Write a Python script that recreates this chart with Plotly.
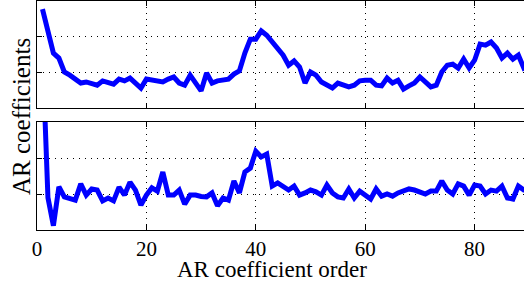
import plotly.graph_objects as go

order = list(range(1, 91))

top_coef = [2.77, 2.10, 1.54, 1.40, 1.01, 0.92, 0.81, 0.70, 0.73, 0.70,
            0.64, 0.76, 0.70, 0.67, 0.81, 0.76, 0.84, 0.70, 0.56, 0.81,
            0.78, 0.76, 0.73, 0.81, 0.87, 0.70, 0.64, 0.92, 0.70, 0.48,
            0.98, 0.70, 0.76, 0.78, 0.81, 0.95, 1.04, 1.54, 1.93, 1.93,
            2.16, 2.04, 1.85, 1.71, 1.48, 1.20, 1.32, 1.15, 0.70, 1.01,
            0.92, 0.73, 0.64, 0.56, 0.70, 0.64, 0.59, 0.64, 0.76, 0.78,
            0.78, 0.64, 0.62, 0.84, 0.70, 0.78, 0.53, 0.62, 0.70, 0.87,
            0.73, 0.59, 0.64, 1.01, 1.20, 1.23, 1.12, 1.37, 1.12, 1.34,
            1.79, 1.76, 1.85, 1.68, 1.40, 1.54, 1.37, 1.48, 1.12, 1.20]

bottom_coef = [5.00, 0.90, 0.12, 1.20, 0.92, 0.89, 0.83, 1.28, 0.97, 1.14,
               1.11, 0.81, 0.89, 0.81, 1.19, 0.97, 1.33, 1.11, 0.69, 0.97,
               1.17, 1.08, 1.61, 0.97, 0.97, 1.11, 0.72, 0.97, 0.97, 0.93,
               0.92, 1.03, 0.67, 0.89, 0.83, 1.36, 1.03, 1.61, 1.72, 2.19,
               2.03, 2.11, 1.22, 1.31, 1.22, 1.11, 1.22, 0.97, 1.03, 1.11,
               1.06, 0.97, 1.25, 1.03, 0.92, 0.89, 1.14, 0.89, 1.08, 0.95,
               0.86, 1.14, 0.94, 1.00, 0.94, 1.03, 1.08, 1.14, 1.11, 1.06,
               1.00, 1.08, 1.08, 1.36, 1.11, 1.00, 1.28, 1.22, 0.97, 1.25,
               1.22, 1.00, 1.11, 1.08, 1.22, 0.89, 0.86, 1.22, 1.11, 1.10]

x_ticks = [0, 20, 40, 60, 80]
x_tick_labels = ["0", "20", "40", "60", "80"]
x_title = "AR coefficient order"
y_title = "AR coefficients"

FONT = "Liberation Serif"
BLUE = "#0000FF"
DOT = "1px,5px"

fig = go.Figure()
fig.add_trace(go.Scatter(x=order, y=top_coef, mode="lines",
                         line=dict(color=BLUE, width=5),
                         xaxis="x", yaxis="y", showlegend=False))
fig.add_trace(go.Scatter(x=order, y=bottom_coef, mode="lines",
                         line=dict(color=BLUE, width=5),
                         xaxis="x2", yaxis="y2", showlegend=False))

xcommon = dict(range=[0, 89.03], tickvals=x_ticks, ticks="inside", ticklen=5,
               tickcolor="black", showline=True, linecolor="black", linewidth=1,
               mirror="ticks", showgrid=True, gridcolor="black", griddash=DOT,
               gridwidth=1, zeroline=False, automargin=False)
ycommon = dict(range=[0, 3], tickvals=[0, 1, 2, 3], showticklabels=False,
               ticks="inside", ticklen=5, tickcolor="black", showline=True,
               linecolor="black", linewidth=1, showgrid=True, gridcolor="black",
               griddash=DOT, gridwidth=1, zeroline=False, automargin=False)

top_y0 = (230 - 108) / 229
bot_y1 = (230 - 122) / 229

fig.update_layout(
    width=524, height=281,
    margin=dict(l=37, r=0, t=1, b=51, autoexpand=False),
    paper_bgcolor="white", plot_bgcolor="white",
    font=dict(family=FONT, size=21, color="black"),
    xaxis=dict(xcommon, anchor="y", showticklabels=False, domain=[0, 1]),
    yaxis=dict(ycommon, anchor="x", domain=[top_y0, 1]),
    xaxis2=dict(xcommon, anchor="y2", showticklabels=True, ticktext=x_tick_labels,
                tickfont=dict(family=FONT, size=21, color="black"),
                domain=[0, 1]),
    yaxis2=dict(ycommon, anchor="x2", domain=[0, bot_y1]),
    annotations=[
        dict(text=y_title, textangle=-90, xref="paper", yref="paper",
             x=(21 - 37) / 487, y=(230 - 117) / 229, xanchor="center",
             yanchor="middle", showarrow=False,
             font=dict(family=FONT, size=25, color="black")),
        dict(text=x_title, xref="paper", yref="paper",
             x=(272 - 37) / 487, y=(230 - 269) / 229, xanchor="center",
             yanchor="middle", showarrow=False,
             font=dict(family=FONT, size=23, color="black")),
    ],
)

fig.write_html("out.html",
               config={"displayModeBar": False},
               post_script="document.body.style.margin='0';"
                           "document.body.style.padding='0';"
                           "document.body.style.overflow='hidden';")
